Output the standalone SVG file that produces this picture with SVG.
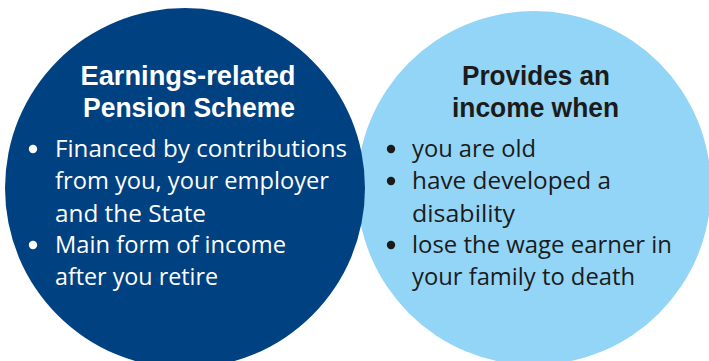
<svg xmlns="http://www.w3.org/2000/svg" width="709" height="361" viewBox="0 0 709 361">
  <style>
    .title { font-family: "Liberation Sans", Arial, sans-serif; font-weight: 700; font-size: 27px; }
    .body { font-family: "Open Sans", "Noto Sans", "DejaVu Sans", sans-serif; font-weight: 400; font-size: 23.5px; }
    .light-text { fill: #ffffff; }
    .dark-text { fill: #1b1b1b; }
  </style>
  <rect width="709" height="361" fill="#ffffff"/>
  <g id="income-when">
    <circle cx="534" cy="188" r="177" fill="#93D5F6"/>
    <text class="title dark-text" x="536" y="85" text-anchor="middle" textLength="148" lengthAdjust="spacingAndGlyphs">Provides an</text>
    <text class="title dark-text" x="535.5" y="117" text-anchor="middle" textLength="167" lengthAdjust="spacingAndGlyphs">income when</text>
    <g fill="#1b1b1b">
      <circle cx="391" cy="149" r="4.2"/>
      <circle cx="391" cy="181" r="4.2"/>
      <circle cx="391" cy="245" r="4.2"/>
    </g>
    <text class="body dark-text" x="412" y="157" textLength="124" lengthAdjust="spacingAndGlyphs">you are old</text>
    <text class="body dark-text" x="412" y="189" textLength="199" lengthAdjust="spacingAndGlyphs">have developed a</text>
    <text class="body dark-text" x="412" y="222" textLength="103" lengthAdjust="spacingAndGlyphs">disability</text>
    <text class="body dark-text" x="412" y="253" textLength="260" lengthAdjust="spacingAndGlyphs">lose the wage earner in</text>
    <text class="body dark-text" x="412" y="285" textLength="223" lengthAdjust="spacingAndGlyphs">your family to death</text>
  </g>
  <g id="earnings-related">
    <circle cx="185" cy="188" r="180" fill="#004181"/>
    <text class="title light-text" x="188" y="85" text-anchor="middle" textLength="215" lengthAdjust="spacingAndGlyphs">Earnings-related</text>
    <text class="title light-text" x="189" y="117" text-anchor="middle" textLength="212" lengthAdjust="spacingAndGlyphs">Pension Scheme</text>
    <g fill="#ffffff">
      <circle cx="33" cy="149" r="4.2"/>
      <circle cx="33" cy="245" r="4.2"/>
    </g>
    <text class="body light-text" x="55" y="157" textLength="292" lengthAdjust="spacingAndGlyphs">Financed by contributions</text>
    <text class="body light-text" x="55" y="189" textLength="274" lengthAdjust="spacingAndGlyphs">from you, your employer</text>
    <text class="body light-text" x="55" y="222" textLength="151" lengthAdjust="spacingAndGlyphs">and the State</text>
    <text class="body light-text" x="55" y="253" textLength="231" lengthAdjust="spacingAndGlyphs">Main form of income</text>
    <text class="body light-text" x="55" y="285" textLength="163" lengthAdjust="spacingAndGlyphs">after you retire</text>
  </g>
  <g id="connectors"/>
</svg>
